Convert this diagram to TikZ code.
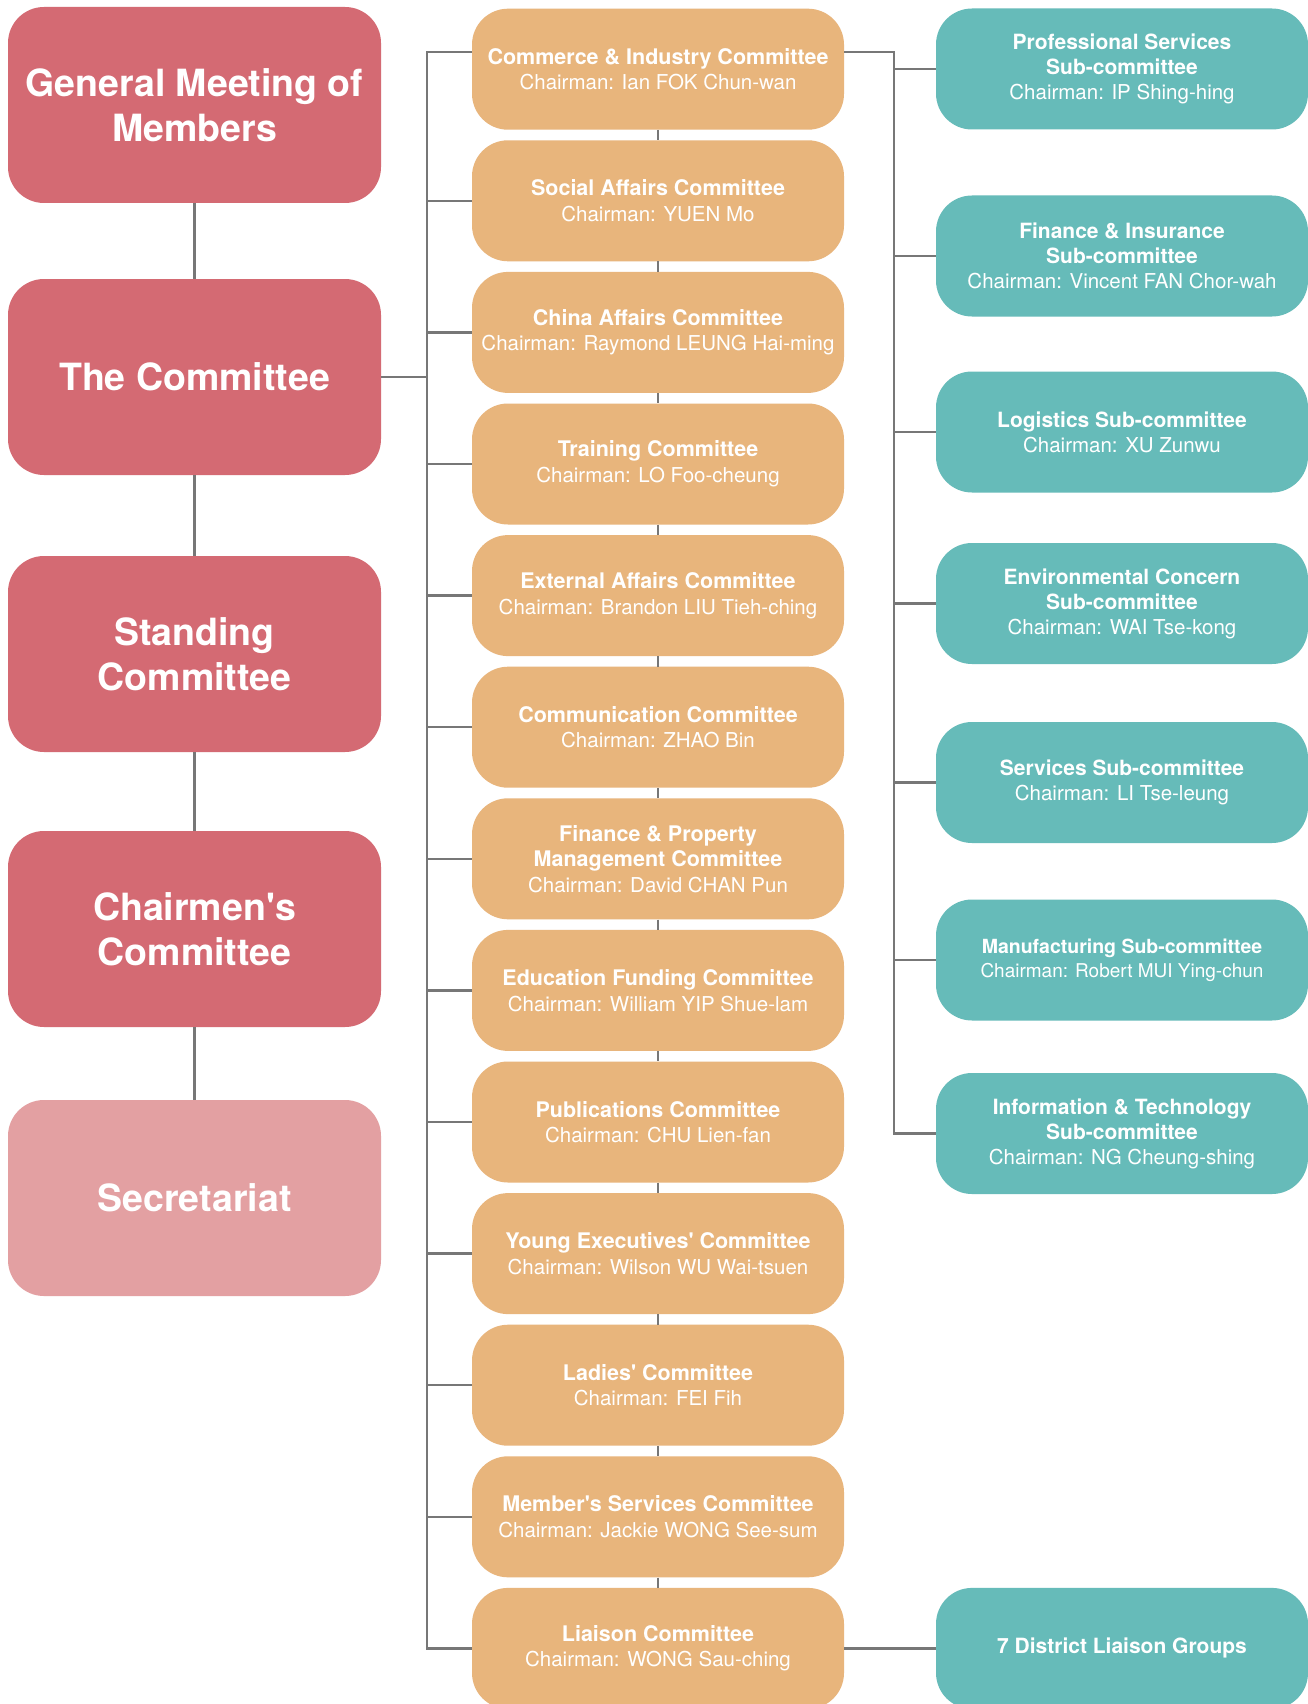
\documentclass[tikz,border=0pt]{standalone}
\usepackage{fontspec}
\setmainfont{TeX Gyre Heros}[Ligatures=TeXOff]
\definecolor{redbox}{HTML}{D46A73}
\definecolor{secbox}{HTML}{E3A0A2}
\definecolor{orbox}{HTML}{E8B57C}
\definecolor{tealbox}{HTML}{66BBB9}
\definecolor{linegray}{HTML}{777777}
\newcommand\chm[1]{{\fontsize{20.5}{25.6}\selectfont #1}}
\newcommand\chms[1]{{\fontsize{19}{24}\selectfont #1}}
\begin{document}
\begin{tikzpicture}[x=1pt,y=-1pt,
  redstyle/.style={rectangle, rounded corners=36pt, fill=redbox, text=white,
    minimum width=373pt, minimum height=196pt, inner sep=0pt, align=center,
    font=\fontsize{37.5}{45}\selectfont\bfseries},
  orstyle/.style={rectangle, rounded corners=36pt, fill=orbox, text=white,
    minimum width=372pt, minimum height=121pt, inner sep=0pt, align=center,
    font=\fontsize{21.5}{25.6}\selectfont},
  tealstyle/.style={rectangle, rounded corners=36pt, fill=tealbox, text=white,
    minimum width=372pt, minimum height=121pt, inner sep=0pt, align=center,
    font=\fontsize{21}{25}\selectfont},
  conn/.style={draw=linegray, line width=2.5pt}]
\useasboundingbox (0,0) rectangle (1308,1704);
\clip (0,0) rectangle (1308,1704);
\fill[white] (0,0) rectangle (1308,1704);

% left column
\node[redstyle] (r1) at (194.5,105) {General Meeting of\\Members};
\node[redstyle] (r2) at (194.5,377) {The Committee};
\node[redstyle] (r3) at (194.5,654) {Standing\\Committee};
\node[redstyle] (r4) at (194.5,929) {Chairmen's\\Committee};
\node[redstyle, fill=secbox] (r5) at (194.5,1198) {Secretariat};

% middle column
\node[orstyle] (c1) at (658,69.2) {\textbf{Commerce \& Industry Committee}\\\chm{Chairman: Ian FOK Chun-wan}};
\node[orstyle] (c2) at (658,200.8) {\textbf{Social Affairs Committee}\\\chm{Chairman: YUEN Mo}};
\node[orstyle] (c3) at (658,332.4) {\textbf{China Affairs Committee}\\\chm{Chairman: Raymond LEUNG Hai-ming}};
\node[orstyle] (c4) at (658,464.0) {\textbf{Training Committee}\\\chm{Chairman: LO Foo-cheung}};
\node[orstyle] (c5) at (658,595.6) {\textbf{External Affairs Committee}\\\chm{Chairman: Brandon LIU Tieh-ching}};
\node[orstyle] (c6) at (658,727.2) {\textbf{Communication Committee}\\\chm{Chairman: ZHAO Bin}};
\node[orstyle] (c7) at (658,858.8) {\textbf{Finance \& Property}\\\textbf{Management Committee}\\\chm{Chairman: David CHAN Pun}};
\node[orstyle] (c8) at (658,990.4) {\textbf{Education Funding Committee}\\\chm{Chairman: William YIP Shue-lam}};
\node[orstyle] (c9) at (658,1122.0) {\textbf{Publications Committee}\\\chm{Chairman: CHU Lien-fan}};
\node[orstyle] (c10) at (658,1253.6) {\textbf{Young Executives' Committee}\\\chm{Chairman: Wilson WU Wai-tsuen}};
\node[orstyle] (c11) at (658,1385.2) {\textbf{Ladies' Committee}\\\chm{Chairman: FEI Fih}};
\node[orstyle] (c12) at (658,1516.8) {\textbf{Member's Services Committee}\\\chm{Chairman: Jackie WONG See-sum}};
\node[orstyle] (c13) at (658,1648.4) {\textbf{Liaison Committee}\\\chm{Chairman: WONG Sau-ching}};

% right column
\node[tealstyle] (s1) at (1122,69) {\textbf{Professional Services}\\\textbf{Sub-committee}\\\chm{Chairman: IP Shing-hing}};
\node[tealstyle] (s2) at (1122,256) {\textbf{Finance \& Insurance}\\\textbf{Sub-committee}\\\chm{Chairman: Vincent FAN Chor-wah}};
\node[tealstyle] (s3) at (1122,432) {\textbf{Logistics Sub-committee}\\\chm{Chairman: XU Zunwu}};
\node[tealstyle] (s4) at (1122,603.5) {\textbf{Environmental Concern}\\\textbf{Sub-committee}\\\chm{Chairman: WAI Tse-kong}};
\node[tealstyle] (s5) at (1122,782.5) {\textbf{Services Sub-committee}\\\chm{Chairman: LI Tse-leung}};
\node[tealstyle, font=\fontsize{19.5}{24}\selectfont] (s6) at (1122,960) {\textbf{Manufacturing Sub-committee}\\\chms{Chairman: Robert MUI Ying-chun}};
\node[tealstyle] (s7) at (1122,1133.5) {\textbf{Information \& Technology}\\\textbf{Sub-committee}\\\chm{Chairman: NG Cheung-shing}};
\node[tealstyle] (s8) at (1122,1648.4) {\textbf{7 District Liaison Groups}};

% connectors: left column
\draw[conn] (r1.south) -- (r2.north);
\draw[conn] (r2.south) -- (r3.north);
\draw[conn] (r3.south) -- (r4.north);
\draw[conn] (r4.south) -- (r5.north);

% middle column short links
\foreach \a/\b in {c1/c2,c2/c3,c3/c4,c4/c5,c5/c6,c6/c7,c7/c8,c8/c9,c9/c10,c10/c11,c11/c12,c12/c13}
  \draw[conn] (\a.south) -- (\b.north);

% left trunk
\coordinate (c1L) at (472,52);
\coordinate (LT) at (427,52);
\draw[conn] (c1L) -- (LT) -- (LT |- c13.west) -- (c13.west);
\foreach \n in {c2,c3,c4,c5,c6,c7,c8,c9,c10,c11,c12}
  \draw[conn] (\n.west) -- (LT |- \n.west);
\draw[conn] (r2.east) -- (LT |- r2.east);

% right trunk
\coordinate (c1R) at (844,52);
\coordinate (RT) at (894,52);
\draw[conn] (c1R) -- (RT) -- (RT |- s7.west) -- (s7.west);
\foreach \n in {s1,s2,s3,s4,s5,s6}
  \draw[conn] (\n.west) -- (RT |- \n.west);
\draw[conn] (c13.east) -- (s8.west);
\end{tikzpicture}
\end{document}
